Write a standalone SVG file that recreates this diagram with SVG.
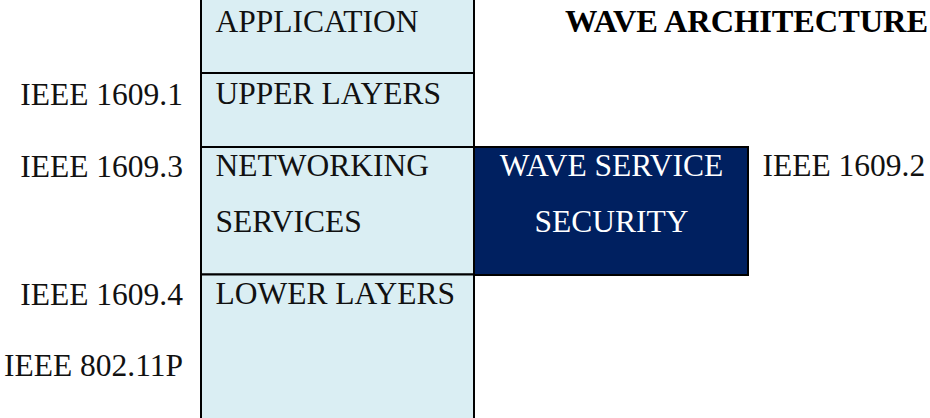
<svg xmlns="http://www.w3.org/2000/svg" width="930" height="418" viewBox="0 0 930 418">
<style>
.cell{fill:#DAEEF3;stroke:#000;stroke-width:2}
.dark{fill:#002060;stroke:#000;stroke-width:2}
.t{font-family:"Liberation Serif","Times New Roman",serif;font-size:31.5px;fill:#111}
.w{font-family:"Liberation Serif","Times New Roman",serif;font-size:31.5px;fill:#fff;text-anchor:middle}
.lab{font-family:"Liberation Serif","Times New Roman",serif;font-size:31.5px;fill:#111}
.r{text-anchor:end}
.title{font-family:"Liberation Serif","Times New Roman",serif;font-size:32.4px;font-weight:bold;fill:#000}
</style>
<rect x="0" y="0" width="930" height="418" fill="#fff"/>
<g id="application">
<rect class="cell" x="201" y="-2" width="273" height="75"/>
<text class="t" x="215.5" y="32.3">APPLICATION</text>
</g>
<g id="upper-layers">
<rect class="cell" x="201" y="73" width="273" height="74"/>
<text class="t" x="215.5" y="104.3">UPPER LAYERS</text>
</g>
<g id="networking-services">
<rect class="cell" x="201" y="147" width="273" height="127.5"/>
<text class="t" x="215.5" y="175.7">NETWORKING</text>
<text class="t" x="215.5" y="232.3">SERVICES</text>
</g>
<g id="lower-layers">
<rect class="cell" x="201" y="274.5" width="273" height="146"/>
<text class="t" x="215.5" y="304.3">LOWER LAYERS</text>
</g>
<g id="wave-service-security">
<rect class="dark" x="474" y="147" width="274" height="128"/>
<text class="w" x="611.5" y="176">WAVE SERVICE</text>
<text class="w" x="611.5" y="231.7">SECURITY</text>
</g>
<g id="labels">
<text class="lab r" x="183" y="105">IEEE 1609.1</text>
<text class="lab r" x="183" y="177.3">IEEE 1609.3</text>
<text class="lab r" x="183" y="305">IEEE 1609.4</text>
<text class="lab r" x="183" y="376">IEEE 802.11P</text>
<text class="lab" x="762.5" y="176">IEEE 1609.2</text>
</g>
<g id="title">
<text class="title" x="565" y="31.7" textLength="363" lengthAdjust="spacing">WAVE ARCHITECTURE</text>
</g>
<g id="connectors"></g>
</svg>
